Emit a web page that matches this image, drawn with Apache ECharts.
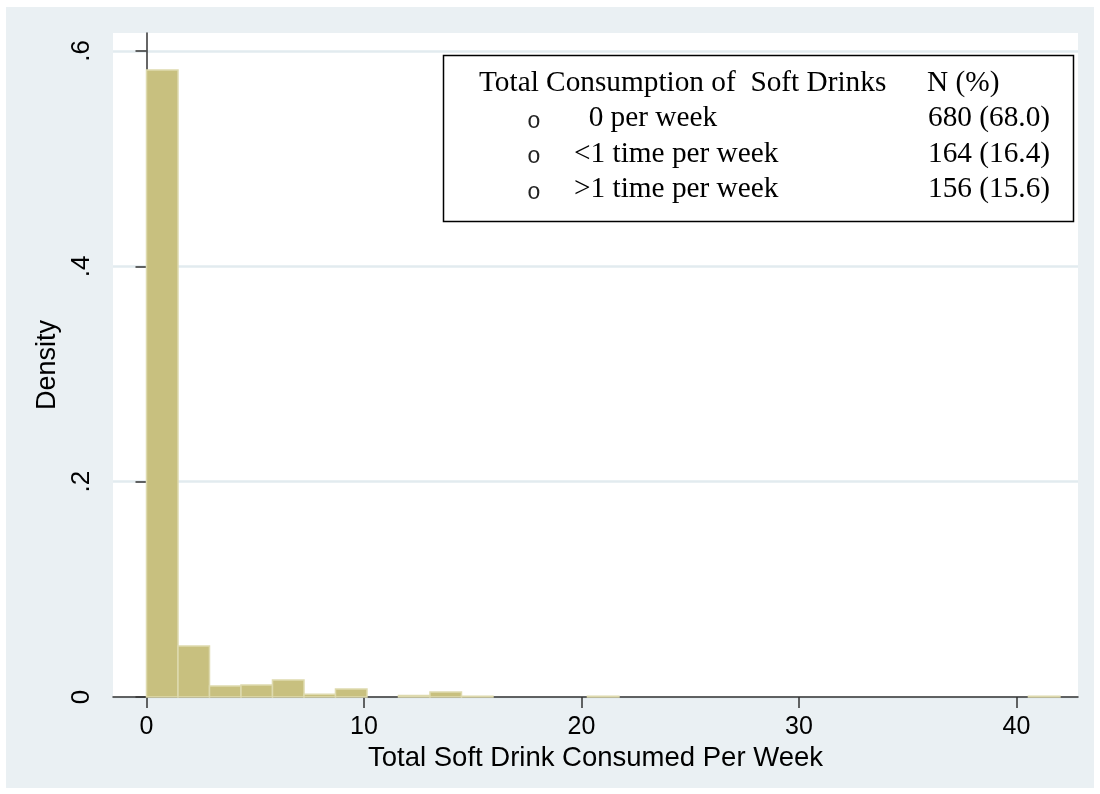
<!DOCTYPE html>
<html>
<head>
<meta charset="utf-8">
<script src="https://cdn.jsdelivr.net/npm/echarts@6/dist/echarts.min.js"></script>
<style>
  html, body { margin: 0; padding: 0; background: #ffffff; }
  #wrap { position: relative; width: 1100px; height: 794px; }
  #panel { position: absolute; left: 6px; top: 7px; width: 1088px; height: 781px; background: #eaf0f3; }
  #chart { position: absolute; left: 0; top: 0; width: 1100px; height: 794px; }
</style>
</head>
<body>
<div id="wrap">
  <div id="panel"></div>
  <div id="chart"></div>
</div>
<script>
// Histogram of weekly soft drink consumption: 29 equal-width bins from 0 to 42
const binStart = 0;
const binWidth = 42 / 29;
const densities = [
  0.5823, 0.0474, 0.0102, 0.0111, 0.0158, 0.0025, 0.0074, 0, 0.0014, 0.0046,
  0.0007, 0, 0, 0, 0.0007, 0, 0, 0, 0, 0,
  0, 0, 0, 0, 0, 0, 0, 0, 0.0007
];
const xTicks = [0, 10, 20, 30, 40];
const yTicks = [0, 0.2, 0.4, 0.6];

// Summary table shown in the upper right box
const tableHeader = ['Total Consumption of  Soft Drinks', 'N (%)'];
const frequencyLabels = ['  0 per week', '<1 time per week', '>1 time per week'];
const frequencyCounts = [680, 164, 156];
const frequencyPercents = [68.0, 16.4, 15.6];

const barData = densities
  .map((d, i) => [binStart + i * binWidth, binStart + (i + 1) * binWidth, d])
  .filter(b => b[2] > 0);

const sans = '"Liberation Sans", Arial, Helvetica, sans-serif';
const serif = '"Liberation Serif", "Times New Roman", serif';
const mono = '"Liberation Mono", "Courier New", monospace';
const axisColor = '#333333';

const tableTop = 83;
const rowStep = 35.6;
const tableTexts = [
  { type: 'text', style: { x: 479, y: tableTop, text: tableHeader[0], font: '29.3px ' + serif, fill: '#000', textVerticalAlign: 'middle' } },
  { type: 'text', style: { x: 927, y: tableTop, text: tableHeader[1], font: '29.3px ' + serif, fill: '#000', textVerticalAlign: 'middle' } }
];
frequencyLabels.forEach((label, i) => {
  const y = tableTop + (i + 1) * rowStep;
  tableTexts.push(
    { type: 'text', style: { x: 534, y: y + 3, text: 'o', font: '23px ' + mono, fill: '#222', textAlign: 'center', textVerticalAlign: 'middle' } },
    { type: 'text', style: { x: 574, y: y, text: label, font: '29.3px ' + serif, fill: '#000', textVerticalAlign: 'middle' } },
    { type: 'text', style: { x: 928, y: y, text: frequencyCounts[i] + ' (' + frequencyPercents[i].toFixed(1) + ')', font: '29.3px ' + serif, fill: '#000', textVerticalAlign: 'middle' } }
  );
});

const chart = echarts.init(document.getElementById('chart'), null, { renderer: 'canvas' });
chart.setOption({
  animation: false,
  backgroundColor: 'transparent',
  grid: {
    left: 113, right: 22, top: 33, bottom: 97,
    show: true, backgroundColor: '#ffffff', borderWidth: 0
  },
  xAxis: {
    type: 'value',
    min: -1.54, max: 42.83,
    name: 'Total Soft Drink Consumed Per Week',
    nameLocation: 'middle',
    nameGap: 46,
    nameTextStyle: { fontFamily: sans, fontSize: 27.5, color: '#000' },
    axisLine: { show: true, onZero: false, lineStyle: { color: axisColor, width: 1.5 } },
    axisTick: { show: true, length: 11, customValues: xTicks, lineStyle: { color: axisColor, width: 1.5 } },
    axisLabel: { customValues: xTicks, margin: 18, fontFamily: sans, fontSize: 25, color: '#000' },
    splitLine: { show: false }
  },
  yAxis: {
    type: 'value',
    min: 0, max: 0.6167,
    name: 'Density',
    nameLocation: 'middle',
    nameGap: 52,
    nameRotate: 90,
    nameTextStyle: { fontFamily: sans, fontSize: 27, color: '#000' },
    axisLine: { show: true, lineStyle: { color: axisColor, width: 1.5 } },
    axisTick: { show: true, length: 11, customValues: yTicks, lineStyle: { color: axisColor, width: 1.5 } },
    axisLabel: {
      customValues: yTicks, rotate: 90, margin: 18,
      fontFamily: sans, fontSize: 26, color: '#000',
      formatter: v => (v === 0 ? '0' : '.' + Math.round(v * 10))
    },
    splitLine: { show: true, lineStyle: { color: '#e2ebef', width: 2.5 } }
  },
  series: [{
    type: 'custom',
    data: barData,
    encode: { x: [0, 1], y: 2 },
    renderItem: (params, api) => {
      const topLeft = api.coord([api.value(0), api.value(2)]);
      const bottomRight = api.coord([api.value(1), 0]);
      return {
        type: 'rect',
        shape: {
          x: topLeft[0], y: topLeft[1],
          width: bottomRight[0] - topLeft[0],
          height: bottomRight[1] - topLeft[1]
        },
        style: { fill: '#c8c07f', stroke: '#dedaae', lineWidth: 1.5 }
      };
    }
  }],
  graphic: [{
    type: 'group',
    z: 100,
    children: [
      { type: 'rect', shape: { x: 443.5, y: 55.5, width: 630, height: 166 }, style: { fill: '#ffffff', stroke: '#000', lineWidth: 1.5 } }
    ].concat(tableTexts)
  }]
});
</script>
</body>
</html>
